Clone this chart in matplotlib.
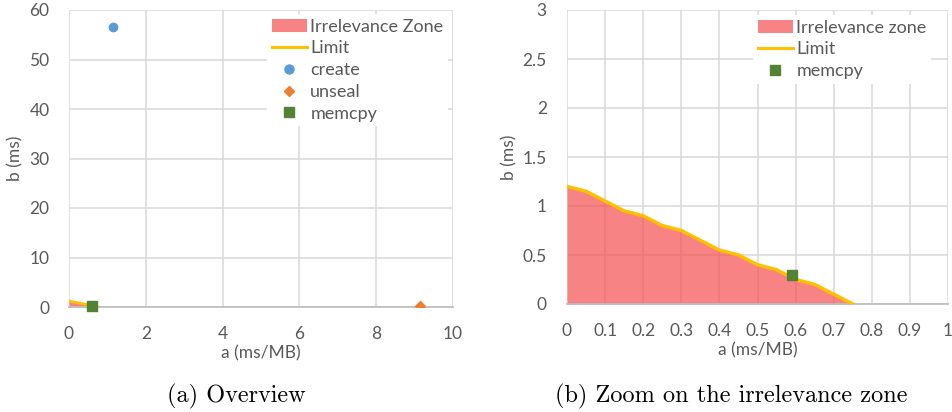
import matplotlib.pyplot as plt
from matplotlib.patches import Patch
from matplotlib.lines import Line2D

# limit curve (a, b) bounding the irrelevance zone
limit_a = [0, 0.05, 0.1, 0.15, 0.2, 0.25, 0.3, 0.35, 0.4, 0.45, 0.5, 0.55, 0.6, 0.65, 0.7, 0.75]
limit_b = [1.2, 1.15, 1.05, 0.95, 0.9, 0.8, 0.75, 0.65, 0.55, 0.5, 0.4, 0.35, 0.25, 0.2, 0.1, 0.0]

# measured operations
create_a, create_b = [1.15], [56.5]
unseal_a, unseal_b = [9.15], [0.3]
memcpy_a, memcpy_b = [0.59], [0.3]

left_xticks = [0, 2, 4, 6, 8, 10]
left_yticks = [0, 10, 20, 30, 40, 50, 60]
right_xticks = [0, 0.1, 0.2, 0.3, 0.4, 0.5, 0.6, 0.7, 0.8, 0.9, 1]
right_yticks = [0, 0.5, 1, 1.5, 2, 2.5, 3]

ZONE = '#f54e50'
LIMIT = '#ffc000'
TXT = '#595959'
GRID = '#d9d9d9'

plt.rcParams['font.family'] = ['Lato', 'DejaVu Sans']

W, H = 953, 412
fig = plt.figure(figsize=(W / 100, H / 100), dpi=100)
ax1 = fig.add_axes([69 / W, 1 - 307 / H, (453 - 69) / W, (307 - 10) / H])
ax2 = fig.add_axes([567 / W, 1 - 304 / H, (948 - 567) / W, (304 - 10) / H])


def style(ax, xt, yt, ypad):
    ax.set_xlim(xt[0], xt[-1])
    ax.set_ylim(yt[0], yt[-1])
    ax.set_xticks(xt)
    ax.set_yticks(yt)
    ax.set_xticklabels(['%g' % v for v in xt])
    ax.set_yticklabels(['%g' % v for v in yt])
    ax.grid(True, color=GRID, lw=1.1)
    ax.set_axisbelow(True)
    for s in ['top', 'right', 'left']:
        ax.spines[s].set_visible(False)
    ax.spines['bottom'].set_color('#bfbfbf')
    ax.spines['bottom'].set_linewidth(1.3)
    ax.tick_params(length=0, labelsize=12.5, colors=TXT)
    ax.tick_params(axis='x', pad=14)
    ax.tick_params(axis='y', pad=ypad)
    ax.set_xlabel('a (ms/MB)', fontsize=12.5, color=TXT, labelpad=2)
    ax.set_ylabel('b (ms)', fontsize=12.5, color=TXT, labelpad=4)


def legend(ax, handles, labels, x0, y0):
    leg = ax.legend(handles, labels, loc='upper left',
                    bbox_to_anchor=(x0 / W, 1 - y0 / H), bbox_transform=fig.transFigure,
                    frameon=True, fontsize=13, handlelength=1.95, handletextpad=0.2,
                    labelspacing=0.32, borderpad=0.25, borderaxespad=0)
    leg.get_frame().set_edgecolor('none')
    leg.get_frame().set_facecolor('white')
    leg.get_frame().set_alpha(1)
    for t in leg.get_texts():
        t.set_color(TXT)
    return leg


# (a) overview
style(ax1, left_xticks, left_yticks, 14)
ax1.fill_between(limit_a, limit_b, 0, color=ZONE, alpha=0.7, lw=0, zorder=2)
ax1.plot(limit_a, limit_b, color=LIMIT, lw=2, zorder=3)
ax1.scatter(create_a, create_b, marker='o', s=36, color='#5b9bd5', zorder=4)
ax1.scatter(unseal_a, unseal_b, marker='D', s=26, color='#ed7d31', zorder=4)
ax1.scatter(memcpy_a, memcpy_b, marker='s', s=55, color='#548235', zorder=4, clip_on=False)
h1 = [Patch(color=ZONE, alpha=0.7, lw=0), Line2D([], [], color=LIMIT, lw=2.2),
      Line2D([], [], marker='o', ls='', color='#5b9bd5', ms=6.5),
      Line2D([], [], marker='D', ls='', color='#ed7d31', ms=5),
      Line2D([], [], marker='s', ls='', color='#548235', ms=7)]
legend(ax1, h1, ['Irrelevance Zone', 'Limit', 'create', 'unseal', 'memcpy'], 267, 14)

# (b) zoom on the irrelevance zone
style(ax2, right_xticks, right_yticks, 14.5)
ax2.fill_between(limit_a, limit_b, 0, color=ZONE, alpha=0.7, lw=0, zorder=2)
ax2.plot(limit_a, limit_b, color=LIMIT, lw=2.5, zorder=3)
ax2.scatter(memcpy_a, memcpy_b, marker='s', s=55, color='#548235', zorder=4)
h2 = [Patch(color=ZONE, alpha=0.7, lw=0), Line2D([], [], color=LIMIT, lw=2.2),
      Line2D([], [], marker='s', ls='', color='#548235', ms=7)]
legend(ax2, h2, ['Irrelevance zone', 'Limit', 'memcpy'], 753, 15)

# captions
cap_font = ['cmr10', 'DejaVu Serif']
fig.text(236 / W, 1 - 396 / H, '(a) Overview', ha='center', va='center',
         fontsize=17.5, family=cap_font, color='black')
fig.text(731 / W, 1 - 396 / H, '(b) Zoom on the irrelevance zone', ha='center', va='center',
         fontsize=17.5, family=cap_font, color='black')

fig.savefig('out.png', dpi=100)
